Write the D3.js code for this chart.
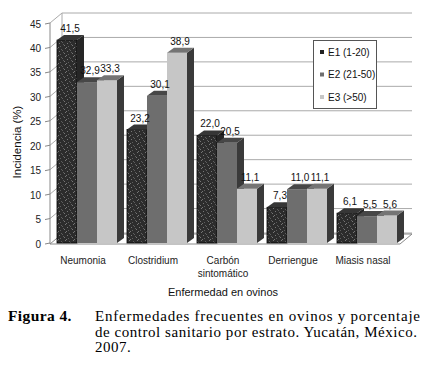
<!DOCTYPE html>
<html>
<head>
<meta charset="utf-8">
<script src="https://cdn.jsdelivr.net/npm/d3@7"></script>
<style>
  body { margin: 0; background: #fff; }
  svg { display: block; }
</style>
</head>
<body>
<svg id="chart" width="429" height="366"></svg>
<script>
// Data
const categories = ['Neumonia', 'Clostridium', 'Carbón\nsintomático', 'Derriengue', 'Miasis nasal'];
const series = ['E1 (1-20)', 'E2 (21-50)', 'E3 (>50)'];
const e1Values = [41.5, 23.2, 22.0, 7.3, 6.1];
const e2Values = [32.9, 30.1, 20.5, 11.0, 5.5];
const e3Values = [33.3, 38.9, 11.1, 11.1, 5.6];
const yTicks = [0, 5, 10, 15, 20, 25, 30, 35, 40, 45];
const captionLines = [
    'Enfermedades frecuentes en ovinos y porcentaje',
    'de control sanitario por estrato. Yucatán, México.',
    '2007.'
];

const values = [e1Values, e2Values, e3Values];

// 3D look: wall depth and bar depth offsets
const wall = {dx: 12, dy: -10};
const depth = {dx: 7, dy: -5};

const styles = [
    {front: 'url(#speckle)', side: '#262626', top: '#363636', stroke: '#000'},
    {front: '#6e6e6e', side: '#3a3a3a', top: '#474747', stroke: 'none'},
    {front: '#c6c6c6', side: '#3a3a3a', top: '#747474', stroke: 'none'}
];

const svg = d3.select('#chart');
const font = 'Liberation Sans, Arial, sans-serif';

// speckled fill used by the first series
const pat = svg.append('defs').append('pattern')
    .attr('id', 'speckle')
    .attr('width', 8).attr('height', 8)
    .attr('patternUnits', 'userSpaceOnUse');
pat.append('rect').attr('width', 8).attr('height', 8).attr('fill', '#2c2c2c');
[[1, 0], [5, 1], [3, 3], [7, 4], [0, 5], [4, 6], [2, 7], [6, 2]].forEach(([px, py], i) => {
    pat.append('rect')
        .attr('x', px).attr('y', py)
        .attr('width', 1).attr('height', 1)
        .attr('fill', i % 2 ? '#5e5e5e' : '#767676');
});

const x = d3.scaleBand()
    .domain(categories)
    .range([50, 400]);

const xInner = d3.scaleBand()
    .domain(series)
    .range([7, 67]);

const y = d3.scaleLinear()
    .domain([0, 45])
    .range([243, 23]);

const x0 = x.range()[0], x1 = x.range()[1];

// back wall gridlines
svg.append('g')
    .selectAll('line')
    .data(yTicks)
    .join('line')
    .attr('x1', x0 + wall.dx).attr('x2', x1 + wall.dx)
    .attr('y1', d => y(d) + wall.dy).attr('y2', d => y(d) + wall.dy)
    .attr('stroke', '#aaa');

// side wall lines
svg.append('g')
    .selectAll('line')
    .data(yTicks.slice(1))
    .join('line')
    .attr('x1', x0).attr('x2', x0 + wall.dx)
    .attr('y1', d => y(d)).attr('y2', d => y(d) + wall.dy)
    .attr('stroke', '#aaa');

svg.append('line')
    .attr('x1', x0 + wall.dx).attr('x2', x0 + wall.dx)
    .attr('y1', y(45) + wall.dy).attr('y2', y(0) + wall.dy)
    .attr('stroke', '#aaa');

// floor
const yf = y(0) + 1;
svg.append('path')
    .attr('d', `M${x0},${yf}L${x1},${yf}L${x1 + wall.dx},${yf + wall.dy}L${x0 + wall.dx},${yf + wall.dy}Z`)
    .attr('fill', '#fff')
    .attr('stroke', '#888');

// front vertical axis with ticks
svg.append('line')
    .attr('x1', x0).attr('x2', x0)
    .attr('y1', y(45)).attr('y2', yf)
    .attr('stroke', '#888');

const yAxisG = svg.append('g');
yAxisG.selectAll('line')
    .data(yTicks)
    .join('line')
    .attr('x1', x0 - 5).attr('x2', x0)
    .attr('y1', d => y(d) + 1).attr('y2', d => y(d))
    .attr('stroke', '#888');
yAxisG.selectAll('text')
    .data(yTicks)
    .join('text')
    .attr('x', x0 - 9)
    .attr('y', d => y(d) + 4.5)
    .attr('text-anchor', 'end')
    .attr('font-family', font)
    .attr('font-size', 10)
    .attr('fill', '#222')
    .text(d => d);

// bars
const bars = [];
categories.forEach((c, ci) => {
    series.forEach((s, si) => {
        bars.push({cat: c, s: s, si: si, v: values[si][ci]});
    });
});

const bw = xInner.bandwidth();
const fmt = d3.format('.1f');

const barG = svg.append('g')
    .selectAll('g')
    .data(bars)
    .join('g');

barG.append('rect')
    .attr('x', d => x(d.cat) + xInner(d.s))
    .attr('y', d => y(d.v))
    .attr('width', bw)
    .attr('height', d => y(0) - y(d.v))
    .attr('fill', d => styles[d.si].front)
    .attr('stroke', d => styles[d.si].stroke)
    .attr('stroke-width', 0.8);

barG.append('path')
    .attr('d', d => {
        const bx = x(d.cat) + xInner(d.s) + bw, top = y(d.v), bot = y(0);
        return `M${bx},${top}L${bx + depth.dx},${top + depth.dy}L${bx + depth.dx},${bot + depth.dy}L${bx},${bot}Z`;
    })
    .attr('fill', d => styles[d.si].side);

barG.append('path')
    .attr('d', d => {
        const bx = x(d.cat) + xInner(d.s), top = y(d.v);
        return `M${bx},${top}L${bx + depth.dx},${top + depth.dy}L${bx + bw + depth.dx},${top + depth.dy}L${bx + bw},${top}Z`;
    })
    .attr('fill', d => styles[d.si].top);

// value labels on top of all bars
svg.append('g')
    .selectAll('text')
    .data(bars)
    .join('text')
    .attr('x', d => x(d.cat) + xInner(d.s) + bw / 2 + 3)
    .attr('y', d => y(d.v) - 8)
    .attr('text-anchor', 'middle')
    .attr('font-family', font)
    .attr('font-size', 10)
    .attr('fill', '#111')
    .text(d => fmt(d.v).replace('.', ','));

// category labels
svg.append('g')
    .selectAll('text')
    .data(categories)
    .join('text')
    .attr('x', d => x(d) + x.bandwidth() / 2 - 2)
    .attr('y', 264)
    .attr('text-anchor', 'middle')
    .attr('font-family', font)
    .attr('font-size', 10)
    .attr('fill', '#222')
    .each(function(d) {
        const t = d3.select(this);
        d.split('\n').forEach((part, i) => {
            t.append('tspan')
                .attr('x', x(d) + x.bandwidth() / 2 - 2)
                .attr('dy', i ? 13 : 0)
                .text(part);
        });
    });

// axis titles
svg.append('text')
    .attr('x', 223)
    .attr('y', 296)
    .attr('text-anchor', 'middle')
    .attr('font-family', font)
    .attr('font-size', 11)
    .attr('fill', '#111')
    .text('Enfermedad en ovinos');

svg.append('text')
    .attr('transform', 'translate(21,142) rotate(-90)')
    .attr('text-anchor', 'middle')
    .attr('font-family', font)
    .attr('font-size', 11.5)
    .attr('fill', '#111')
    .text('Incidencia (%)');

// legend
const legend = svg.append('g');
legend.append('rect')
    .attr('x', 313.5).attr('y', 40.5)
    .attr('width', 63).attr('height', 68)
    .attr('fill', '#fff')
    .attr('stroke', '#555');

const legendItems = legend.selectAll('g')
    .data(series)
    .join('g')
    .attr('transform', (d, i) => `translate(320,${52 + i * 22.5})`);

legendItems.append('rect')
    .attr('x', 0).attr('y', -2)
    .attr('width', 4).attr('height', 4)
    .attr('fill', (d, i) => i === 0 ? '#222' : styles[i].front);

legendItems.append('text')
    .attr('x', 8).attr('y', 3.5)
    .attr('font-family', font)
    .attr('font-size', 10)
    .attr('fill', '#111')
    .text(d => d);

// caption
const serif = 'Liberation Serif, Times New Roman, serif';
svg.append('text')
    .attr('x', 8).attr('y', 321)
    .attr('font-family', serif)
    .attr('font-size', 15.5)
    .attr('font-weight', 'bold')
    .attr('letter-spacing', 0.4)
    .text('Figura 4.');

// justified lines are stretched over the full width, spacing spread over glyphs
const captionWidths = [325, 322, null];
svg.append('g')
    .selectAll('text')
    .data(captionLines)
    .join('text')
    .attr('x', 95)
    .attr('y', (d, i) => 321 + i * 15.5)
    .attr('font-family', serif)
    .attr('font-size', 15)
    .attr('letter-spacing', (d, i) => captionWidths[i] ? null : 0.5)
    .attr('textLength', (d, i) => captionWidths[i])
    .attr('lengthAdjust', 'spacing')
    .text(d => d);
</script>
</body>
</html>
